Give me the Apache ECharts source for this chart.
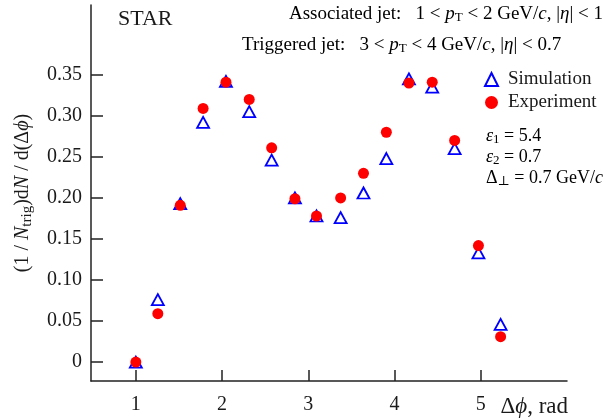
<!DOCTYPE html>
<html>
<head>
<meta charset="utf-8">
<script src="https://cdn.jsdelivr.net/npm/echarts@6/dist/echarts.min.js"></script>
<style>
html,body{margin:0;padding:0;background:#fff;}
#c{width:611px;height:418px;}
</style>
</head>
<body>
<div id="c"></div>
<script>
// Data
const dphi = [1.0, 1.255, 1.515, 1.78, 2.045, 2.315, 2.575, 2.845, 3.095, 3.375, 3.64, 3.905, 4.167, 4.437, 4.697, 4.973, 5.23];
const simulation = [0.0, 0.076, 0.193, 0.292, 0.342, 0.305, 0.246, 0.200, 0.178, 0.176, 0.206, 0.248, 0.345, 0.335, 0.260, 0.133, 0.046];
const experiment = [0.0, 0.059, 0.191, 0.309, 0.341, 0.320, 0.261, 0.199, 0.178, 0.200, 0.230, 0.280, 0.340, 0.341, 0.270, 0.142, 0.031];
const xTicks = [1, 2, 3, 4, 5];
const yTicks = [0, 0.05, 0.10, 0.15, 0.20, 0.25, 0.30, 0.35];
const xNamePos = 5.62;

const FONT = '"Liberation Serif", "DejaVu Serif", serif';
const TXT = '#1a1a1a';

const simData = dphi.map((x, i) => [x, simulation[i]]);
const expData = dphi.map((x, i) => [x, experiment[i]]);

const chart = echarts.init(document.getElementById('c'), null, {renderer: 'canvas'});

function richSet(fs, sub, lh, subPad) {
  return {
    n: {fontFamily: FONT, fontSize: fs, color: TXT, lineHeight: lh},
    i: {fontFamily: FONT, fontSize: fs, color: TXT, fontStyle: 'italic', lineHeight: lh},
    s: {fontFamily: FONT, fontSize: sub, color: TXT, lineHeight: lh, padding: [subPad, 0, 0, 0]}
  };
}

chart.setOption({
  animation: false,
  backgroundColor: '#fff',
  grid: {left: 91, right: 44, top: 5, bottom: 37, containLabel: false},
  xAxis: {
    type: 'value', min: 0.48, max: 6.0,
    axisLine: {show: true, onZero: false, lineStyle: {color: '#222', width: 1.5}},
    axisTick: {show: true, inside: true, length: 11, customValues: xTicks, lineStyle: {color: '#222', width: 1.5}},
    splitLine: {show: false},
    axisLabel: {
      customValues: xTicks.concat([xNamePos]), margin: 14,
      fontFamily: FONT, fontSize: 20, color: TXT,
      formatter: function (v) {
        if (Math.abs(v - xNamePos) < 1e-6) return '{n|Δ}{i|ϕ}{n|, rad}';
        return String(Math.round(v));
      },
      rich: {
        n: {fontFamily: FONT, fontSize: 23, color: TXT},
        i: {fontFamily: FONT, fontSize: 23, color: TXT, fontStyle: 'italic'}
      }
    }
  },
  yAxis: {
    type: 'value', min: -0.023, max: 0.435,
    axisLine: {show: true, lineStyle: {color: '#222', width: 1.5}},
    axisTick: {show: true, inside: true, length: 12, customValues: yTicks, lineStyle: {color: '#222', width: 1.5}},
    splitLine: {show: false},
    axisLabel: {
      customValues: yTicks, margin: 9,
      fontFamily: FONT, fontSize: 20, color: TXT,
      formatter: function (v) { return v === 0 ? '0' : v.toFixed(2); }
    },
    name: '{n|(1 / }{i|N}{s|trig}{n|)d}{i|N}{n| / d(Δ}{i|ϕ}{n|)}',
    nameLocation: 'middle', nameRotate: 90, nameGap: 56,
    nameTextStyle: {rich: richSet(20, 15, 24, 8)}
  },
  legend: {
    orient: 'vertical', left: 479, top: 65, itemGap: 4,
    itemWidth: 13, itemHeight: 13,
    textStyle: {fontFamily: FONT, fontSize: 19, color: TXT, padding: [0, 0, 0, 5]},
    data: ['Simulation', 'Experiment']
  },
  series: [
    {
      name: 'Simulation', type: 'scatter', data: simData,
      symbol: 'triangle', symbolSize: [12, 11], z: 2,
      itemStyle: {color: '#ffffff', borderColor: '#0000ff', borderWidth: 1.8, opacity: 1}
    },
    {
      name: 'Experiment', type: 'scatter', data: expData,
      symbol: 'circle', symbolSize: 11, z: 3,
      itemStyle: {color: '#ff0000', opacity: 1}
    }
  ],
  graphic: [
    {type: 'text', left: 118, top: 8, style: {text: 'STAR', fontFamily: FONT, fontSize: 22, fill: TXT}},
    {type: 'text', right: 8, top: 4, style: {
      text: '{n|Associated jet:   1 < }{i|p}{s|T}{n| < 2 GeV/}{i|c}{n|, |}{i|η}{n|| < 1}',
      rich: richSet(19, 13, 22, 7)}},
    {type: 'text', left: 242, top: 35, style: {
      text: '{n|Triggered jet:   3 < }{i|p}{s|T}{n| < 4 GeV/}{i|c}{n|, |}{i|η}{n|| < 0.7}',
      rich: richSet(19, 13, 22, 7)}},
    {type: 'text', left: 486, top: 126, style: {
      text: '{i|ε}{s|1}{n| = 5.4}\n{i|ε}{s|2}{n| = 0.7}\n{n|Δ}{s|⊥}{n| = 0.7 GeV/}{i|c}',
      rich: richSet(18, 13, 21, 7)}}
  ]
});
</script>
</body>
</html>
